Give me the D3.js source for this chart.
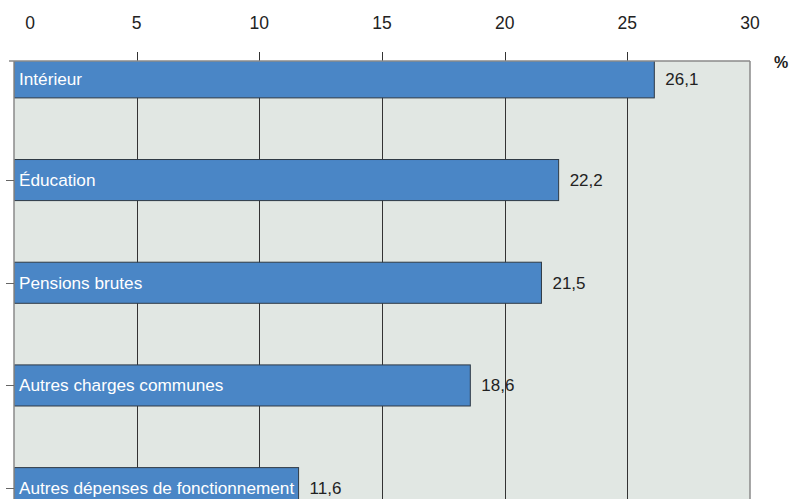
<!DOCTYPE html>
<html>
<head>
<meta charset="utf-8">
<script src="https://cdn.jsdelivr.net/npm/d3@7"></script>
<style>
  body { margin: 0; background: #fff; }
  svg { display: block; font-family: "Liberation Sans", Arial, sans-serif; }
</style>
</head>
<body>
<div id="chart"></div>
<script>
// data
var categories = ["Intérieur", "Éducation", "Pensions brutes", "Autres charges communes", "Autres dépenses de fonctionnement"];
var values = [26.1, 22.2, 21.5, 18.6, 11.6];
var tickValues = [0, 5, 10, 15, 20, 25, 30];

var width = 789, height = 499;
var plotLeft = 14, plotRight = 750, plotTop = 61;

var svg = d3.select("#chart").append("svg")
  .attr("width", width)
  .attr("height", height);

var x = d3.scaleLinear().domain([0, 30]).range([plotLeft, plotRight]);
var y = d3.scaleBand()
  .domain(categories)
  .range([26, 539.5])
  .paddingInner(0.6)
  .paddingOuter(0.3);

var fmt = function (v) { return d3.format(".1f")(v).replace(".", ","); };
// labels sit in the middle of the visible part of each bar
var midY = function (d) {
  var t = Math.max(y(d), plotTop);
  return (t + y(d) + y.bandwidth()) / 2;
};

// plot background
svg.append("rect")
  .attr("x", plotLeft).attr("y", plotTop)
  .attr("width", plotRight - plotLeft).attr("height", height + 20 - plotTop)
  .attr("fill", "#e1e7e3");

svg.append("clipPath").attr("id", "plot")
  .append("rect")
  .attr("x", plotLeft).attr("y", plotTop)
  .attr("width", plotRight - plotLeft).attr("height", height - plotTop);

// vertical grid
svg.append("g")
  .selectAll("line")
  .data(tickValues.slice(1, -1))
  .join("line")
  .attr("x1", function (d) { return Math.round(x(d)) + 0.5; })
  .attr("x2", function (d) { return Math.round(x(d)) + 0.5; })
  .attr("y1", plotTop - 9)
  .attr("y2", height)
  .attr("stroke", "#333")
  .attr("stroke-width", 1);

// bars
var bars = svg.append("g").attr("clip-path", "url(#plot)");
bars.selectAll("rect")
  .data(categories)
  .join("rect")
  .attr("x", x(0))
  .attr("y", function (d) { return y(d); })
  .attr("width", function (d, i) { return x(values[i]) - x(0); })
  .attr("height", y.bandwidth())
  .attr("fill", "#4a86c6")
  .attr("stroke", "#2f3a45")
  .attr("stroke-width", 1);

// category labels inside bars
svg.append("g")
  .selectAll("text")
  .data(categories)
  .join("text")
  .attr("x", x(0) + 5)
  .attr("y", midY)
  .attr("dy", "0.35em")
  .attr("fill", "#fff")
  .attr("font-size", 17.2)
  .text(function (d) { return d; });

// value labels
svg.append("g")
  .selectAll("text")
  .data(categories)
  .join("text")
  .attr("x", function (d, i) { return x(values[i]) + 11; })
  .attr("y", midY)
  .attr("dy", "0.35em")
  .attr("fill", "#222")
  .attr("font-size", 17)
  .text(function (d, i) { return fmt(values[i]); });

// plot borders
var border = svg.append("g").attr("stroke", "#8a8a8a").attr("stroke-width", 1.5);
border.append("line").attr("x1", 9).attr("x2", plotRight).attr("y1", plotTop).attr("y2", plotTop);
border.append("line").attr("x1", plotLeft).attr("x2", plotLeft).attr("y1", plotTop).attr("y2", height);
border.append("line").attr("x1", plotRight).attr("x2", plotRight).attr("y1", plotTop).attr("y2", height);

// y-axis ticks (first category has none in the source)
svg.append("g")
  .selectAll("line")
  .data(categories.slice(1))
  .join("line")
  .attr("x1", plotLeft - 8).attr("x2", plotLeft)
  .attr("y1", function (d) { return Math.round(y(d) + y.bandwidth() / 2) + 0.5; })
  .attr("y2", function (d) { return Math.round(y(d) + y.bandwidth() / 2) + 0.5; })
  .attr("stroke", "#666");

// top axis labels
svg.append("g")
  .selectAll("text")
  .data(tickValues)
  .join("text")
  .attr("x", function (d) { return d === 0 ? x(d) + 16 : x(d); })
  .attr("y", 29)
  .attr("text-anchor", "middle")
  .attr("font-size", 17.5)
  .attr("fill", "#222")
  .text(function (d) { return d; });

svg.append("text")
  .attr("x", 781)
  .attr("y", 68)
  .attr("text-anchor", "middle")
  .attr("font-size", 16)
  .attr("font-weight", "bold")
  .attr("fill", "#222")
  .text("%");
</script>
</body>
</html>
